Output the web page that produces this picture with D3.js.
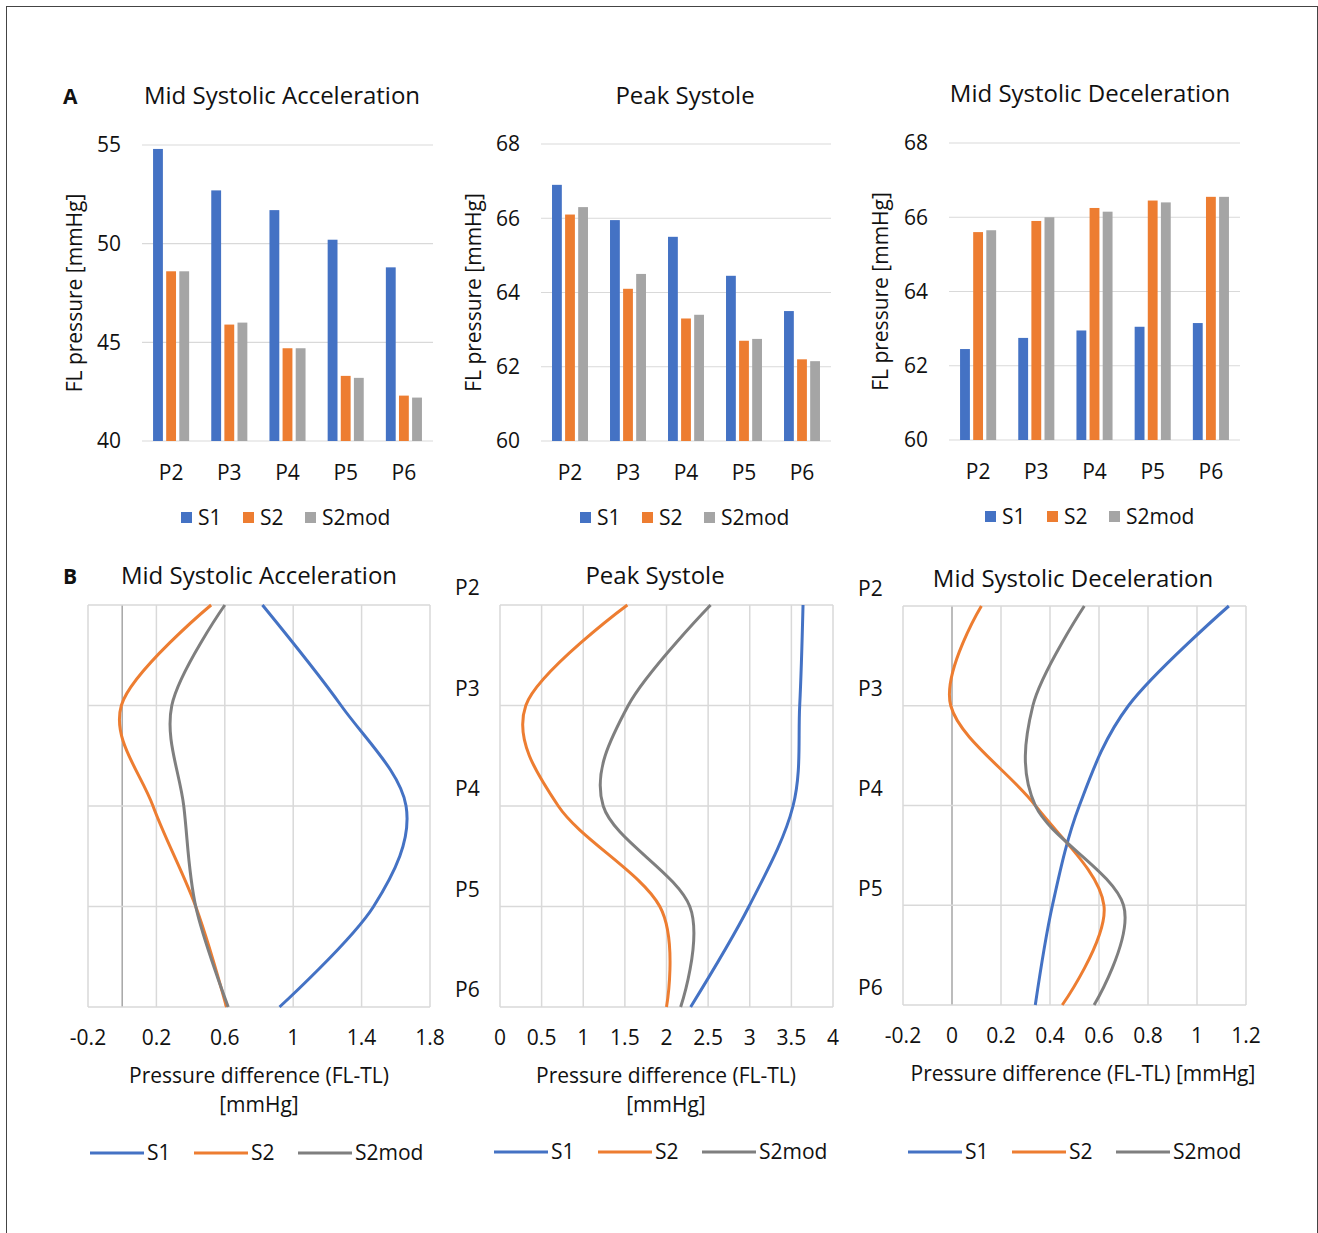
<!DOCTYPE html>
<html>
<head>
<meta charset="utf-8">
<script src="https://cdn.jsdelivr.net/npm/d3@7"></script>
<style>
    body { margin: 0; background: #fff; }
    text { font-family: "Open Sans", sans-serif; fill: #111; }
</style>
</head>
<body>
<div id="figure"></div>
<script>
// categories and series
const positions = ["P2", "P3", "P4", "P5", "P6"]
const seriesNames = ["S1", "S2", "S2mod"]

// A: FL pressure [mmHg]
const barAccS1 = [54.8, 52.7, 51.7, 50.2, 48.8]
const barAccS2 = [48.6, 45.9, 44.7, 43.3, 42.3]
const barAccS2mod = [48.6, 46.0, 44.7, 43.2, 42.2]

const barPeakS1 = [66.9, 65.95, 65.5, 64.45, 63.5]
const barPeakS2 = [66.1, 64.1, 63.3, 62.7, 62.2]
const barPeakS2mod = [66.3, 64.5, 63.4, 62.75, 62.15]

const barDecS1 = [62.45, 62.75, 62.95, 63.05, 63.15]
const barDecS2 = [65.6, 65.9, 66.25, 66.45, 66.55]
const barDecS2mod = [65.65, 66.0, 66.15, 66.4, 66.55]

// B: pressure difference FL-TL [mmHg] at each position
const lineAccS1 = [0.82, 1.28, 1.66, 1.47, 0.92]
const lineAccS2 = [0.52, -0.005, 0.18, 0.43, 0.61]
const lineAccS2mod = [0.60, 0.29, 0.36, 0.43, 0.62]

const linePeakS1 = [3.64, 3.6, 3.52, 2.99, 2.29]
const linePeakS2 = [1.53, 0.31, 0.70, 1.92, 2.0]
const linePeakS2mod = [2.53, 1.54, 1.24, 2.28, 2.17]

const lineDecS1 = [1.13, 0.72, 0.52, 0.41, 0.34]
const lineDecS2 = [0.12, -0.005, 0.34, 0.62, 0.45]
const lineDecS2mod = [0.54, 0.33, 0.34, 0.70, 0.58]

// axis ticks
const barTicksAcc = [40, 45, 50, 55]
const barTicksPeak = [60, 62, 64, 66, 68]
const barTicksDec = [60, 62, 64, 66, 68]
const lineTicksAcc = [-0.2, 0.2, 0.6, 1, 1.4, 1.8]
const lineTicksPeak = [0, 0.5, 1, 1.5, 2, 2.5, 3, 3.5, 4]
const lineTicksDec = [-0.2, 0, 0.2, 0.4, 0.6, 0.8, 1, 1.2]

const colors = { S1: "#4472C4", S2: "#ED7D31", S2mod: "#A5A5A5" }
const lineColors = { S1: "#4472C4", S2: "#ED7D31", S2mod: "#7F7F7F" }

const fontSize = "21px"
const titleSize = "24px"

const svg = d3.select("#figure")
    .append("svg")
    .attr("width", 1318)
    .attr("height", 1233)

// outer frame
svg.append("rect")
    .attr("x", 6.5).attr("y", 6.5)
    .attr("width", 1311).attr("height", 1260)
    .attr("fill", "none")
    .attr("stroke", "#444")
    .attr("stroke-width", 1)

svg.append("text").text("A")
    .attr("x", 63).attr("y", 104)
    .style("font-size", "21px").style("font-weight", "bold")

svg.append("text").text("B")
    .attr("x", 63).attr("y", 584)
    .style("font-size", "21px").style("font-weight", "bold")

function barChart(opt) {
    const g = svg.append("g")
    const rows = positions.map((p, i) => ({ pos: p, S1: opt.s1[i], S2: opt.s2[i], S2mod: opt.s2mod[i] }))

    const x = d3.scaleBand()
        .domain(positions)
        .range([opt.x0, opt.x1])
        .paddingInner(0.38)
        .paddingOuter(0.19)

    const xs = d3.scaleBand()
        .domain(seriesNames)
        .range([0, x.bandwidth()])
        .paddingInner(0.25)

    const y = d3.scaleLinear()
        .domain(opt.domain)
        .range([opt.y1, opt.y0])

    // gridlines
    g.append("g")
        .selectAll("line")
        .data(opt.ticks)
        .join("line")
        .attr("x1", opt.x0).attr("x2", opt.x1)
        .attr("y1", d => y(d)).attr("y2", d => y(d))
        .attr("stroke", "#D9D9D9")
        .attr("stroke-width", 1.2)

    g.append("g")
        .selectAll("text")
        .data(opt.ticks)
        .join("text")
        .attr("x", opt.x0 - 21)
        .attr("y", d => y(d))
        .attr("dy", "0.35em")
        .attr("text-anchor", "end")
        .style("font-size", fontSize)
        .text(d => d)

    g.append("g")
        .selectAll("g")
        .data(rows)
        .join("g")
        .attr("transform", d => `translate(${x(d.pos)},0)`)
        .selectAll("rect")
        .data(d => seriesNames.map(s => ({ key: s, value: d[s] })))
        .join("rect")
        .attr("x", d => xs(d.key))
        .attr("width", xs.bandwidth())
        .attr("y", d => y(d.value))
        .attr("height", d => y(opt.domain[0]) - y(d.value))
        .attr("fill", d => colors[d.key])

    g.append("g")
        .selectAll("text")
        .data(positions)
        .join("text")
        .attr("x", d => x(d) + x.bandwidth() / 2)
        .attr("y", opt.y1 + 32)
        .attr("dy", "0.35em")
        .attr("text-anchor", "middle")
        .style("font-size", fontSize)
        .text(d => d)

    g.append("text")
        .text(opt.title)
        .attr("x", opt.titleX).attr("y", opt.titleY)
        .attr("text-anchor", "middle")
        .style("font-size", titleSize)

    g.append("text")
        .text("FL pressure [mmHg]")
        .attr("transform", `translate(${opt.labelX}, ${(opt.y0 + opt.y1) / 2}) rotate(-90)`)
        .attr("text-anchor", "middle")
        .attr("dy", "0.35em")
        .style("font-size", fontSize)

    // legend with square keys
    const leg = g.append("g")
        .selectAll("g")
        .data(seriesNames)
        .join("g")
        .attr("transform", (d, i) => `translate(${opt.legendX + i * 62}, ${opt.y1 + 77})`)
    leg.append("rect")
        .attr("x", 0).attr("y", -6)
        .attr("width", 11).attr("height", 11)
        .attr("fill", d => colors[d])
    leg.append("text")
        .attr("x", 17).attr("dy", "0.35em")
        .style("font-size", fontSize)
        .text(d => d)
}

function lineChart(opt) {
    const g = svg.append("g")

    const x = d3.scaleLinear()
        .domain(opt.domain)
        .range([opt.x0, opt.x1])

    const y = d3.scalePoint()
        .domain(positions)
        .range([opt.y0, opt.y1])

    g.append("g")
        .selectAll("line")
        .data(opt.grid)
        .join("line")
        .attr("x1", d => x(d)).attr("x2", d => x(d))
        .attr("y1", opt.y0).attr("y2", opt.y1)
        .attr("stroke", d => Math.abs(d) < 1e-9 && opt.domain[0] < 0 ? "#A6A6A6" : "#D9D9D9")
        .attr("stroke-width", 1.5)

    g.append("g")
        .selectAll("line")
        .data(positions)
        .join("line")
        .attr("x1", opt.x0).attr("x2", opt.x1)
        .attr("y1", d => y(d)).attr("y2", d => y(d))
        .attr("stroke", "#D9D9D9")
        .attr("stroke-width", 1.5)

    g.append("g")
        .selectAll("text")
        .data(opt.ticks)
        .join("text")
        .attr("x", d => x(d))
        .attr("y", opt.y1 + 31)
        .attr("dy", "0.35em")
        .attr("text-anchor", "middle")
        .style("font-size", fontSize)
        .text(d => d)

    if (opt.showPos) {
        g.append("g")
            .selectAll("text")
            .data(positions)
            .join("text")
            .attr("x", opt.posX)
            .attr("y", d => y(d) - 17)
            .attr("dy", "0.35em")
            .style("font-size", fontSize)
            .text(d => d)
    }

    const line = d3.line()
        .x(d => x(d.v))
        .y(d => y(d.p))
        .curve(d3.curveCardinal.tension(0))

    const lines = [
        { key: "S1", values: opt.s1 },
        { key: "S2", values: opt.s2 },
        { key: "S2mod", values: opt.s2mod }
    ]

    g.append("g")
        .selectAll("path")
        .data(lines)
        .join("path")
        .attr("d", d => line(d.values.map((v, i) => ({ v: v, p: positions[i] }))))
        .attr("fill", "none")
        .attr("stroke", d => lineColors[d.key])
        .attr("stroke-width", 3)

    g.append("text")
        .text(opt.title)
        .attr("x", opt.titleX).attr("y", opt.titleY)
        .attr("text-anchor", "middle")
        .style("font-size", titleSize)

    opt.xLabel.forEach((t, i) => {
        g.append("text")
            .text(t)
            .attr("x", opt.xLabelX).attr("y", opt.y1 + 69 + i * 29)
            .attr("dy", "0.35em")
            .attr("text-anchor", "middle")
            .style("font-size", fontSize)
    })

    const leg = g.append("g")
        .selectAll("g")
        .data(seriesNames)
        .join("g")
        .attr("transform", (d, i) => `translate(${opt.legendX + i * 104}, ${opt.legendY})`)
    leg.append("line")
        .attr("x1", 0).attr("x2", 54)
        .attr("stroke", d => lineColors[d])
        .attr("stroke-width", 3)
    leg.append("text")
        .attr("x", 57).attr("dy", "0.35em")
        .style("font-size", fontSize)
        .text(d => d)
}

barChart({ s1: barAccS1, s2: barAccS2, s2mod: barAccS2mod, domain: [40, 55], ticks: barTicksAcc,
    x0: 142, x1: 433, y0: 145, y1: 441, title: "Mid Systolic Acceleration", titleX: 282, titleY: 104,
    labelX: 75, legendX: 181 })
barChart({ s1: barPeakS1, s2: barPeakS2, s2mod: barPeakS2mod, domain: [60, 68], ticks: barTicksPeak,
    x0: 541, x1: 831, y0: 144, y1: 441, title: "Peak Systole", titleX: 685, titleY: 104,
    labelX: 474, legendX: 580 })
barChart({ s1: barDecS1, s2: barDecS2, s2mod: barDecS2mod, domain: [60, 68], ticks: barTicksDec,
    x0: 949, x1: 1240, y0: 143, y1: 440, title: "Mid Systolic Deceleration", titleX: 1090, titleY: 102,
    labelX: 881, legendX: 985 })

lineChart({ s1: lineAccS1, s2: lineAccS2, s2mod: lineAccS2mod, domain: [-0.2, 1.8],
    grid: [-0.2, 0, 0.2, 0.6, 1, 1.4, 1.8], ticks: lineTicksAcc,
    x0: 88, x1: 430, y0: 605, y1: 1007, title: "Mid Systolic Acceleration", titleX: 259, titleY: 584,
    showPos: false, xLabel: ["Pressure difference (FL-TL)", "[mmHg]"], xLabelX: 259,
    legendX: 90, legendY: 1153 })
lineChart({ s1: linePeakS1, s2: linePeakS2, s2mod: linePeakS2mod, domain: [0, 4],
    grid: lineTicksPeak, ticks: lineTicksPeak,
    x0: 500, x1: 833, y0: 605, y1: 1007, title: "Peak Systole", titleX: 655, titleY: 584,
    showPos: true, posX: 455, xLabel: ["Pressure difference (FL-TL)", "[mmHg]"], xLabelX: 666,
    legendX: 494, legendY: 1152 })
lineChart({ s1: lineDecS1, s2: lineDecS2, s2mod: lineDecS2mod, domain: [-0.2, 1.2],
    grid: lineTicksDec, ticks: lineTicksDec,
    x0: 903, x1: 1246, y0: 606, y1: 1005, title: "Mid Systolic Deceleration", titleX: 1073, titleY: 587,
    showPos: true, posX: 858, xLabel: ["Pressure difference (FL-TL) [mmHg]"], xLabelX: 1083,
    legendX: 908, legendY: 1152 })
</script>
</body>
</html>
